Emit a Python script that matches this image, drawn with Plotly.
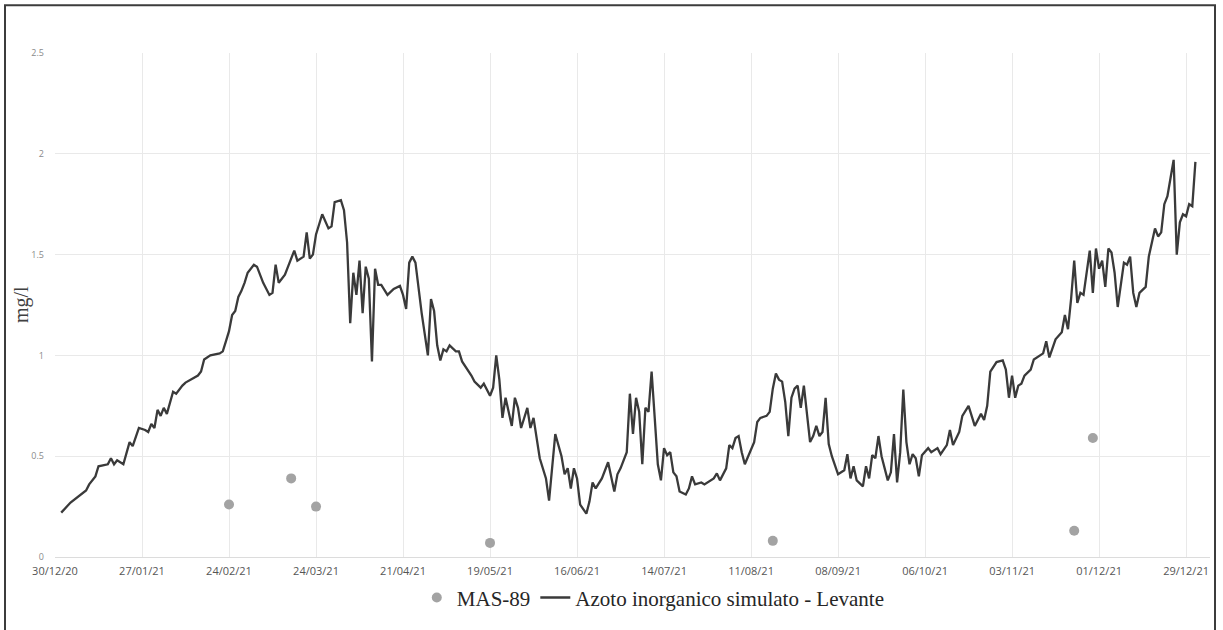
import pandas as pd
import plotly.graph_objects as go

# Asse temporale: giorni contati dal 30/12/2020
data_base = pd.Timestamp("2020-12-30")

# Azoto inorganico simulato - Levante (mg/l), serie giornaliera
giorni_sim = [
    2, 5, 10, 11, 13, 14, 17, 18, 19, 20, 22, 24, 25, 26, 27, 29, 30, 31, 32, 33,
    34, 35, 36, 38, 39, 41, 42, 46, 47, 48, 50, 53, 54, 55, 56, 57, 58, 59, 60, 61,
    62, 64, 65, 67, 69, 70, 71, 72, 74, 75, 77, 78, 80, 81, 82, 83, 84, 86, 88, 89,
    90, 92, 93, 94, 95, 96, 97, 98, 99, 100, 101, 102, 103, 104, 105, 107, 109, 111, 112, 113,
    114, 115, 116, 118, 120, 121, 122, 123, 124, 125, 126, 127, 129, 130, 131, 134, 135, 137, 138, 140,
    141, 142, 143, 144, 145, 147, 148, 149, 150, 152, 153, 154, 155, 156, 158, 159, 161, 163, 164, 165,
    166, 167, 168, 169, 171, 172, 173, 174, 176, 178, 180, 181, 182, 184, 185, 186, 187, 188, 189, 190,
    191, 192, 193, 194, 195, 196, 197, 198, 199, 200, 201, 203, 204, 205, 206, 208, 209, 210, 212, 213,
    214, 216, 217, 218, 219, 220, 221, 222, 224, 225, 226, 227, 229, 230, 231, 232, 233, 234, 235, 236,
    237, 238, 239, 240, 241, 243, 244, 245, 246, 247, 248, 249, 250, 252, 254, 255, 256, 257, 258, 260,
    261, 262, 263, 264, 265, 266, 268, 269, 270, 271, 272, 273, 274, 275, 276, 277, 278, 279, 281, 282,
    284, 285, 287, 288, 289, 291, 292, 294, 295, 296, 298, 299, 300, 301, 303, 305, 306, 307, 308, 309,
    310, 311, 312, 314, 315, 318, 319, 320, 322, 324, 325, 326, 327, 328, 329, 330, 331, 333, 334, 335,
    336, 337, 338, 339, 340, 341, 342, 344, 345, 346, 347, 348, 349, 351, 352, 354, 355, 356, 357, 358,
    359, 360, 361, 362, 363, 364, 365, 366, 367,
]
azoto_sim = [
    0.22, 0.27, 0.33, 0.36, 0.40, 0.45, 0.46, 0.49, 0.46, 0.48, 0.46, 0.57, 0.55, 0.60, 0.64, 0.63, 0.62, 0.66, 0.64, 0.73,
    0.70, 0.74, 0.71, 0.82, 0.81, 0.85, 0.865, 0.90, 0.92, 0.98, 1.00, 1.01, 1.02, 1.07, 1.12, 1.20, 1.22, 1.29, 1.32, 1.36,
    1.41, 1.45, 1.44, 1.36, 1.30, 1.31, 1.45, 1.36, 1.40, 1.44, 1.52, 1.47, 1.49, 1.61, 1.48, 1.50, 1.60, 1.70, 1.63, 1.64,
    1.76, 1.77, 1.72, 1.56, 1.16, 1.41, 1.30, 1.47, 1.21, 1.44, 1.38, 0.97, 1.43, 1.35, 1.35, 1.30, 1.33, 1.345, 1.30, 1.23,
    1.46, 1.49, 1.46, 1.21, 1.00, 1.28, 1.22, 1.05, 0.975, 1.03, 1.02, 1.05, 1.02, 1.02, 0.97, 0.90, 0.87, 0.84, 0.86, 0.80,
    0.84, 1.00, 0.88, 0.69, 0.79, 0.65, 0.79, 0.74, 0.64, 0.74, 0.64, 0.69, 0.59, 0.49, 0.39, 0.28, 0.61, 0.50, 0.41, 0.44,
    0.34, 0.44, 0.39, 0.26, 0.215, 0.275, 0.37, 0.34, 0.39, 0.47, 0.325, 0.41, 0.44, 0.52, 0.81, 0.61, 0.79, 0.72, 0.46, 0.74,
    0.72, 0.92, 0.69, 0.46, 0.38, 0.54, 0.505, 0.52, 0.42, 0.40, 0.325, 0.31, 0.34, 0.40, 0.36, 0.37, 0.36, 0.37, 0.39, 0.415,
    0.38, 0.44, 0.555, 0.54, 0.59, 0.60, 0.52, 0.46, 0.54, 0.57, 0.67, 0.69, 0.70, 0.72, 0.835, 0.91, 0.88, 0.87, 0.77, 0.60,
    0.79, 0.835, 0.85, 0.74, 0.85, 0.57, 0.60, 0.65, 0.60, 0.62, 0.79, 0.56, 0.50, 0.41, 0.43, 0.51, 0.39, 0.45, 0.38, 0.35,
    0.45, 0.39, 0.505, 0.49, 0.60, 0.50, 0.38, 0.42, 0.61, 0.37, 0.52, 0.83, 0.57, 0.46, 0.51, 0.49, 0.40, 0.505, 0.54, 0.52,
    0.54, 0.51, 0.555, 0.63, 0.555, 0.62, 0.70, 0.75, 0.70, 0.65, 0.71, 0.68, 0.75, 0.92, 0.967, 0.975, 0.93, 0.79, 0.90, 0.79,
    0.85, 0.86, 0.90, 0.93, 0.98, 1.01, 1.07, 0.99, 1.08, 1.115, 1.20, 1.13, 1.28, 1.47, 1.26, 1.31, 1.30, 1.52, 1.31, 1.53,
    1.43, 1.47, 1.34, 1.53, 1.51, 1.41, 1.24, 1.46, 1.45, 1.49, 1.31, 1.24, 1.31, 1.34, 1.49, 1.63, 1.59, 1.61, 1.75, 1.79,
    1.88, 1.97, 1.50, 1.66, 1.70, 1.69, 1.75, 1.74, 1.96,
]

# Campioni misurati al punto MAS-89 (mg/l)
date_mas = ["2021-02-24", "2021-03-16", "2021-03-24", "2021-05-19",
            "2021-08-18", "2021-11-23", "2021-11-29"]
valori_mas = [0.26, 0.39, 0.25, 0.07, 0.08, 0.13, 0.59]

# Etichette dell'asse x: passo di 28 giorni
tick_date = pd.date_range("2020-12-30", "2021-12-29", freq="28D")
tick_testo = [d.strftime("%d/%m/%y") for d in tick_date]

y_tick = [0, 0.5, 1, 1.5, 2, 2.5]
y_tick_testo = ["0", "0.5", "1", "1.5", "2", "2.5"]

date_sim = [data_base + pd.Timedelta(days=g) for g in giorni_sim]

fig = go.Figure()
fig.add_trace(go.Scatter(
    x=date_mas, y=valori_mas, mode="markers", name="MAS-89",
    marker=dict(color="#a3a3a3", size=10),
))
fig.add_trace(go.Scatter(
    x=date_sim, y=azoto_sim, mode="lines",
    name="Azoto inorganico simulato - Levante",
    line=dict(color="#3a3a3a", width=2.3),
))

W, H = 1223, 630
ml, mr, mt, mb = 55, 13, 53, 71
pw, ph = W - ml - mr, H - mt - mb

def px_x(p):
    return (p - ml) / pw

def px_y(p):
    return (H - mb - p) / ph

fig.update_layout(
    width=W, height=H,
    margin=dict(l=ml, r=mr, t=mt, b=mb),
    paper_bgcolor="white", plot_bgcolor="white",
    showlegend=True,
    legend=dict(
        orientation="h", x=0.518, xanchor="center", y=px_y(600), yanchor="middle",
        font=dict(family="Liberation Serif", size=21, color="#262626"),
        itemwidth=30, tracegroupgap=0,
    ),
    xaxis=dict(
        type="date",
        range=[data_base, data_base + pd.Timedelta(days=371.7)],
        tickvals=list(tick_date), ticktext=tick_testo,
        tickfont=dict(family="Open Sans", size=11, color="#555555"),
        showgrid=True, gridcolor="#e9e9e9", gridwidth=1,
        showline=False, zeroline=False, ticks="", ticklabelstandoff=6,
    ),
    yaxis=dict(
        range=[0, 2.5], tickvals=y_tick, ticktext=y_tick_testo,
        tickfont=dict(family="Open Sans", size=9, color="#8a8a8a"),
        showgrid=True, gridcolor="#e9e9e9", gridwidth=1,
        zeroline=True, zerolinecolor="#dcdcdc", zerolinewidth=1,
        showline=False, ticks="", ticklabelstandoff=10,
    ),
    annotations=[dict(
        text="mg/l", xref="paper", yref="paper", x=px_x(21), y=0.5,
        xanchor="center", yanchor="middle", textangle=-90, showarrow=False,
        font=dict(family="Liberation Serif", size=20, color="#404040"),
    )],
    shapes=[dict(
        type="rect", xref="paper", yref="paper",
        x0=px_x(5), x1=px_x(1215), y0=px_y(660), y1=px_y(5),
        line=dict(color="#3c3c3c", width=2), fillcolor="rgba(0,0,0,0)",
    )],
)

fig.write_html("out.html")
